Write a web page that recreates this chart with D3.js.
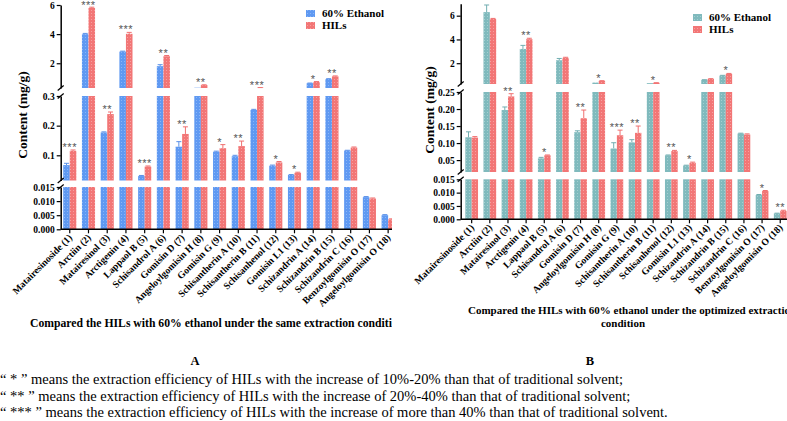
<!DOCTYPE html>
<html><head><meta charset="utf-8">
<script src="https://cdn.jsdelivr.net/npm/d3@7"></script>
<style>body{margin:0;background:#fff}svg{display:block}</style>
</head><body><svg id="c" width="787" height="421"></svg>
<script>
const categories = ["Matairesinoside (1)","Arctiin (2)","Matairesinol (3)","Arctigenin (4)","Lappaol B (5)","Schisandrol A (6)","Gomisin D (7)","Angeloylgomisin H (8)","Gomisin G (9)","Schisantherin A (10)","Schisantherin B (11)","Schisanhenol (12)","Gomisin L1 (13)","Schizandrin A (14)","Schizandrin B (15)","Schizandrin C (16)","Benzoylgomisin O (17)","Angeloylgomisin O (18)"];
const seriesNames = ["60% Ethanol","HILs"];

// Panel A: same extraction condition
const ethanolA = [0.067,4.0,0.177,2.8,0.030,1.8,0.129,0.32,0.112,0.097,0.253,0.065,0.034,0.63,0.92,0.116,0.0114,0.005];
const hilsA    = [0.115,5.8,0.239,4.02,0.062,2.48,0.172,0.5,0.124,0.131,0.32,0.076,0.041,0.72,1.1,0.126,0.0109,0.0035];
const ethanolErrA = [0.006,0.05,0.002,0.03,0.002,0.1,0.017,0,0.002,0.003,0.002,0.002,0.001,0.01,0.02,0.001,0.0002,0.0002];
const hilsErrA    = [0.003,0.05,0.007,0.1,0.002,0.05,0.024,0.02,0.012,0.017,0.01,0.003,0.002,0.02,0.03,0.002,0.0002,0.0002];
const starsA = ["***","***","**","***","***","**","**","**","*","**","***","*","*","*","**","","",""];
const ticksA = [[0,0.005,0.010,0.015],[0.1,0.2,0.3],[2,4,6]];

// Panel B: optimized extraction condition
const ethanolB = [0.117,6.3,0.197,3.2,0.055,2.25,0.132,0.37,0.084,0.102,0.32,0.064,0.034,0.6,0.96,0.128,0.0091,0.0022];
const hilsB    = [0.116,5.72,0.237,4.02,0.064,2.45,0.173,0.51,0.123,0.13,0.35,0.0765,0.042,0.68,1.1,0.125,0.0106,0.0032];
const ethanolErrB = [0.016,0.6,0.009,0.3,0.003,0.15,0.004,0,0.017,0.008,0,0.001,0.001,0.01,0.02,0.001,0.0002,0.0001];
const hilsErrB    = [0.003,0.05,0.008,0.08,0.001,0.05,0.024,0.02,0.015,0.02,0.01,0.002,0.002,0.02,0.04,0.002,0.0002,0.0002];
const starsB = ["","","**","**","*","","**","*","***","**","*","**","*","","*","","*","**"];
const ticksB = [[0,0.005,0.010,0.015],[0.05,0.10,0.15,0.20,0.25],[2,4,6]];

const titleA = "Compared the HILs with 60% ethanol under the same extraction condition";
const titleB = ["Compared the HILs with 60% ethanol under the optimized extraction","condition"];
const notes = ["\u201C * \u201D means the extraction efficiency of HILs with the increase of 10%-20% than that of traditional solvent;",
"\u201C ** \u201D means the extraction efficiency of HILs with the increase of 20%-40% than that of traditional solvent;",
"\u201C *** \u201D means the extraction efficiency of HILs with the increase of more than 40% than that of traditional solvent."];

const svg = d3.select("#c");
const SERIF = "'Liberation Serif','Times New Roman',serif";
const defs = svg.append("defs");
function pat(id, base, dot){
  const p = defs.append("pattern").attr("id",id).attr("width",3).attr("height",3).attr("patternUnits","userSpaceOnUse");
  p.append("rect").attr("width",3).attr("height",3).attr("fill",base);
  p.append("rect").attr("x",1).attr("y",1).attr("width",1).attr("height",1).attr("fill",dot);
}
pat("pBlue","#5f99f2","#8ab6f7");
pat("pRed","#f27676","#f7a0a0");
pat("pTeal","#80babd","#a5d0d2");
defs.append("clipPath").attr("id","clipA").append("rect").attr("x",0).attr("y",0).attr("width",392).attr("height",421);

function drawPanel(cfg){
  const g = svg.append("g").attr("clip-path", cfg.clip ? "url(#clipA)" : null);
  const x = d3.scaleBand().domain(categories).range(cfg.xRange).paddingInner(0.3).paddingOuter(0.15);
  const xs = d3.scaleBand().domain([0,1]).range([0,x.bandwidth()]);
  const segs = cfg.segs.map((s,k)=>({dom:s.dom, y:d3.scaleLinear().domain(s.dom).range(s.range), ticks:cfg.ticks[k], fmt:s.fmt}));
  const vals = [cfg.v0, cfg.v1], errs = [cfg.e0, cfg.e1], fills = [cfg.fill0, "url(#pRed)"], strokes=[cfg.stroke0,"#f07070"];
  segs.forEach(s=>{
    const [lo,hi] = s.dom;
    categories.forEach((c,i)=>{
      [0,1].forEach(j=>{
        const v = vals[j][i], e = errs[j][i];
        if (v <= lo) return;
        const top = Math.min(v,hi);
        const bx = x(c)+xs(j), bw = xs.bandwidth();
        g.append("rect").attr("x",bx).attr("y",s.y(top)).attr("width",bw).attr("height",s.y(lo)-s.y(top)).attr("fill",fills[j]);
        if (e>0 && v<hi){
          const et = Math.min(v+e,hi), cx = bx+bw/2;
          g.append("line").attr("x1",cx).attr("x2",cx).attr("y1",s.y(v)).attr("y2",s.y(et)).attr("stroke",strokes[j]).attr("stroke-width",1);
          if (v+e<=hi) g.append("line").attr("x1",cx-2.5).attr("x2",cx+2.5).attr("y1",s.y(et)).attr("y2",s.y(et)).attr("stroke",strokes[j]).attr("stroke-width",1);
        }
      });
    });
    const ax = g.append("g").attr("transform",`translate(${cfg.axisX},0)`)
      .call(d3.axisLeft(s.y).tickValues(s.ticks).tickFormat(d3.format(s.fmt)).tickSizeOuter(0).tickSizeInner(4).tickPadding(2));
    ax.select(".domain").attr("stroke","#000").attr("stroke-width",1.5);
    ax.selectAll(".tick line").attr("stroke","#000").attr("stroke-width",1.2);
    ax.selectAll("text").attr("font-family",SERIF).attr("font-weight","bold").attr("font-size",cfg.tickFs).attr("fill","#000");
  });
  // break marks
  segs.forEach((s,k)=>{
    const ends = [];
    if (k>0) ends.push(s.y.range()[0]);
    if (k<segs.length-1) ends.push(s.y.range()[1]);
    ends.forEach(ye=>{
      g.append("line").attr("x1",cfg.axisX-3).attr("y1",ye+2.5).attr("x2",cfg.axisX+3).attr("y2",ye-2.5).attr("stroke","#000").attr("stroke-width",1.2);
    });
  });
  // stars
  categories.forEach((c,i)=>{
    const st = cfg.stars[i]; if (!st) return;
    const m = Math.max(vals[0][i]+errs[0][i], vals[1][i]+errs[1][i]);
    const s = segs.find(s=> m>=s.dom[0] && m<=s.dom[1]) || segs[segs.length-1];
    g.append("text").attr("x",x(c)+x.bandwidth()/2).attr("y",Math.max(9, s.y(Math.min(m,s.dom[1]))+1))
      .attr("text-anchor","middle").attr("font-family","'Liberation Sans',Arial,sans-serif").attr("font-size",11)
      .attr("letter-spacing","0.5px").attr("fill","#555").text(st);
  });
  // x axis
  const bottom = segs[0].y.range()[0];
  const xa = g.append("g").attr("transform",`translate(0,${bottom})`)
    .call(d3.axisBottom(x).tickSizeOuter(0).tickSizeInner(4).tickFormat(""));
  xa.select(".domain").attr("d",`M${cfg.axisX},0H${cfg.xEnd}`).attr("stroke","#000").attr("stroke-width",1.5);
  xa.selectAll(".tick line").attr("stroke","#000").attr("stroke-width",1.2);
  g.selectAll(null).data(categories).enter().append("text")
    .attr("transform",d=>`translate(${x(d)+x.bandwidth()/2+3},${bottom+9}) rotate(-45)`)
    .attr("text-anchor","end").attr("font-family",SERIF).attr("font-weight","bold").attr("font-size",9.7).text(d=>d);
  // y title
  g.append("text").attr("transform",`translate(${cfg.yTitleX},${cfg.yTitleY}) rotate(-90)`).attr("text-anchor","middle")
    .attr("font-family",SERIF).attr("font-weight","bold").attr("font-size",13.5).text("Content (mg/g)");
  // legend
  seriesNames.forEach((n,j)=>{
    g.append("rect").attr("x",cfg.legX).attr("y",cfg.legY+j*12).attr("width",9).attr("height",7).attr("fill",fills[j]);
    g.append("text").attr("x",cfg.legX+16).attr("y",cfg.legY+j*12+7).attr("font-family",SERIF).attr("font-weight","bold")
      .attr("font-size",11).text(n);
  });
  return g;
}

const gA = drawPanel({xRange:[60.4,397.5], axisX:60.7, xEnd:397, clip:true,
  segs:[{dom:[0,0.015],range:[229.3,187],fmt:".3f"},{dom:[0.015,0.3],range:[180.5,96],fmt:".1f"},{dom:[0.3,6],range:[88,5],fmt:"d"}],
  ticks:ticksA, v0:ethanolA, v1:hilsA, e0:ethanolErrA, e1:hilsErrA, stars:starsA, fill0:"url(#pBlue)", stroke0:"#5a90e8",
  tickFs:9.5, yTitleX:27, yTitleY:115, legX:306, legY:10});
const gB = drawPanel({xRange:[462.6,789.3], axisX:460.7, xEnd:787, clip:false,
  segs:[{dom:[0,0.015],range:[219.3,179.3],fmt:".3f"},{dom:[0.015,0.25],range:[172,92],fmt:".2f"},{dom:[0.25,7],range:[84,3.8],fmt:"d"}],
  ticks:ticksB, v0:ethanolB, v1:hilsB, e0:ethanolErrB, e1:hilsErrB, stars:starsB, fill0:"url(#pTeal)", stroke0:"#72aeb1",
  tickFs:9.5, yTitleX:434, yTitleY:110, legX:693, legY:14});

gA.append("text").attr("x",30).attr("y",327).attr("font-family",SERIF).attr("font-weight","bold").attr("font-size",11.7).text(titleA);
svg.append("text").attr("x",468).attr("y",314).attr("font-family",SERIF).attr("font-weight","bold").attr("font-size",11).text(titleB[0]);
svg.append("text").attr("x",623).attr("y",327).attr("text-anchor","middle").attr("font-family",SERIF).attr("font-weight","bold").attr("font-size",11).text(titleB[1]);
svg.append("text").attr("x",195).attr("y",365).attr("text-anchor","middle").attr("font-family",SERIF).attr("font-weight","bold").attr("font-size",12.5).text("A");
svg.append("text").attr("x",590).attr("y",365).attr("text-anchor","middle").attr("font-family",SERIF).attr("font-weight","bold").attr("font-size",12.5).text("B");
notes.forEach((t,k)=>svg.append("text").attr("x",0).attr("y",384+k*16.5).attr("font-family",SERIF).attr("font-size",14.5).text(t));
</script></body></html>
